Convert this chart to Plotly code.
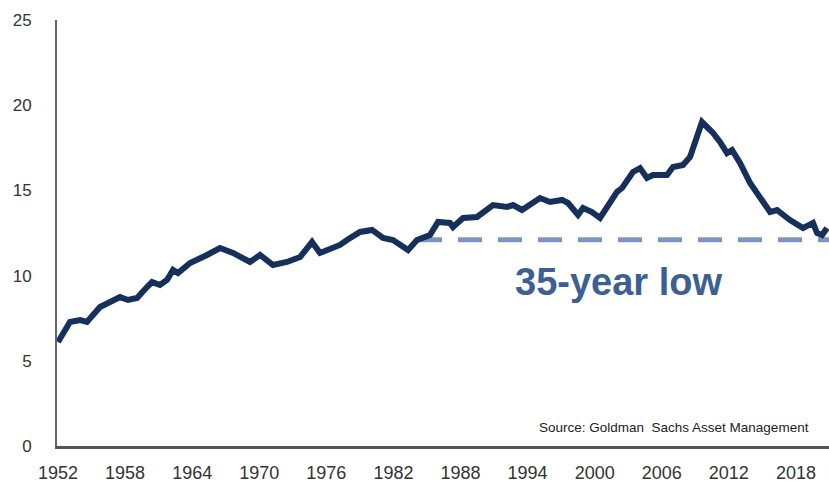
import plotly.graph_objects as go

# Ratio series (%), sampled at the turning points of the monthly curve
years = [1952.0, 1953.07, 1953.97, 1954.59, 1955.76, 1956.65, 1957.55, 1958.26, 1959.07,
         1959.96, 1960.41, 1961.12, 1961.75, 1962.29, 1962.73, 1963.81, 1964.43, 1965.33,
         1966.49, 1967.65, 1969.17, 1970.07, 1971.23, 1972.48, 1973.65, 1974.72, 1975.43,
         1976.06, 1977.22, 1977.85, 1979.01, 1980.09, 1981.07, 1981.96, 1983.31, 1984.11,
         1985.27, 1985.99, 1987.06, 1987.33, 1988.23, 1989.48, 1990.01, 1990.91, 1992.16,
         1992.70, 1993.50, 1995.11, 1996.01, 1997.08, 1997.62, 1998.51, 1998.96, 1999.76,
         2000.48, 2001.19, 2002.0, 2002.45, 2002.89, 2003.43, 2004.06, 2004.68, 2005.22,
         2006.47, 2007.01, 2007.90, 2008.53, 2009.16, 2009.60, 2010.05, 2010.59, 2011.21,
         2011.84, 2012.29, 2013.0, 2013.90, 2014.79, 2015.69, 2016.31, 2017.47, 2018.64,
         2019.53, 2019.89, 2020.34, 2020.78]
values = [6.1, 7.28, 7.39, 7.28, 8.16, 8.45, 8.74, 8.57, 8.69,
          9.33, 9.62, 9.45, 9.74, 10.33, 10.15, 10.74, 10.92, 11.21,
          11.62, 11.33, 10.80, 11.21, 10.62, 10.80, 11.09, 11.97, 11.33,
          11.50, 11.80, 12.09, 12.56, 12.68, 12.21, 12.09, 11.50, 12.09,
          12.38, 13.15, 13.09, 12.85, 13.38, 13.44, 13.67, 14.14, 14.03,
          14.14, 13.85, 14.55, 14.32, 14.44, 14.26, 13.56, 13.97, 13.73,
          13.38, 14.03, 14.91, 15.14, 15.61, 16.08, 16.31, 15.73, 15.90,
          15.90, 16.37, 16.49, 16.96, 18.13, 19.01, 18.72, 18.37, 17.84,
          17.19, 17.37, 16.61, 15.43, 14.55, 13.73, 13.85, 13.26, 12.79,
          13.09, 12.50, 12.38, 12.79]

# Reference level marking the recent low
low_years = [1984.2, 2021.0]
low_level = [12.1, 12.1]

x_ticks = list(range(1952, 2019, 6))
y_ticks = [0, 5, 10, 15, 20, 25]

fig = go.Figure()
fig.add_trace(go.Scatter(
    x=low_years, y=low_level, mode="lines",
    line=dict(color="#7d95bf", width=5, dash="24px,16px"),
    hoverinfo="skip", showlegend=False))
fig.add_trace(go.Scatter(
    x=years, y=values, mode="lines",
    line=dict(color="#15315b", width=6),
    showlegend=False))

fig.add_annotation(
    x=2002.13, y=9.6, xref="x", yref="y",
    text="<b>35-year low</b>", showarrow=False,
    xanchor="center", yanchor="middle",
    font=dict(family="Liberation Sans, Arial", size=38, color="#3c5f94"))
fig.add_annotation(
    x=2019.35, y=1.115, xref="x", yref="y",
    text="Source: Goldman  Sachs Asset Management", showarrow=False,
    xanchor="right", yanchor="middle",
    font=dict(family="Liberation Sans, Arial", size=13.5, color="#222222"))

fig.update_layout(
    width=829, height=483,
    margin=dict(l=57, r=0, t=20, b=37),
    paper_bgcolor="white", plot_bgcolor="white",
    font=dict(family="Liberation Sans, Arial", size=17, color="#333333"),
    xaxis=dict(
        range=[1951.91, 2020.96], tickvals=x_ticks,
        ticktext=[str(t) for t in x_ticks],
        tickfont=dict(size=18),
        showgrid=False, zeroline=False,
        showline=True, linecolor="#555555", linewidth=2.5,
        ticks="outside", ticklen=9, tickcolor="rgba(0,0,0,0)"),
    yaxis=dict(
        range=[0, 25], tickvals=y_ticks,
        showgrid=False, zeroline=False,
        showline=True, linecolor="#666666", linewidth=2,
        ticks="outside", ticklen=20, tickcolor="rgba(0,0,0,0)"),
)

fig.write_html("out.html")
